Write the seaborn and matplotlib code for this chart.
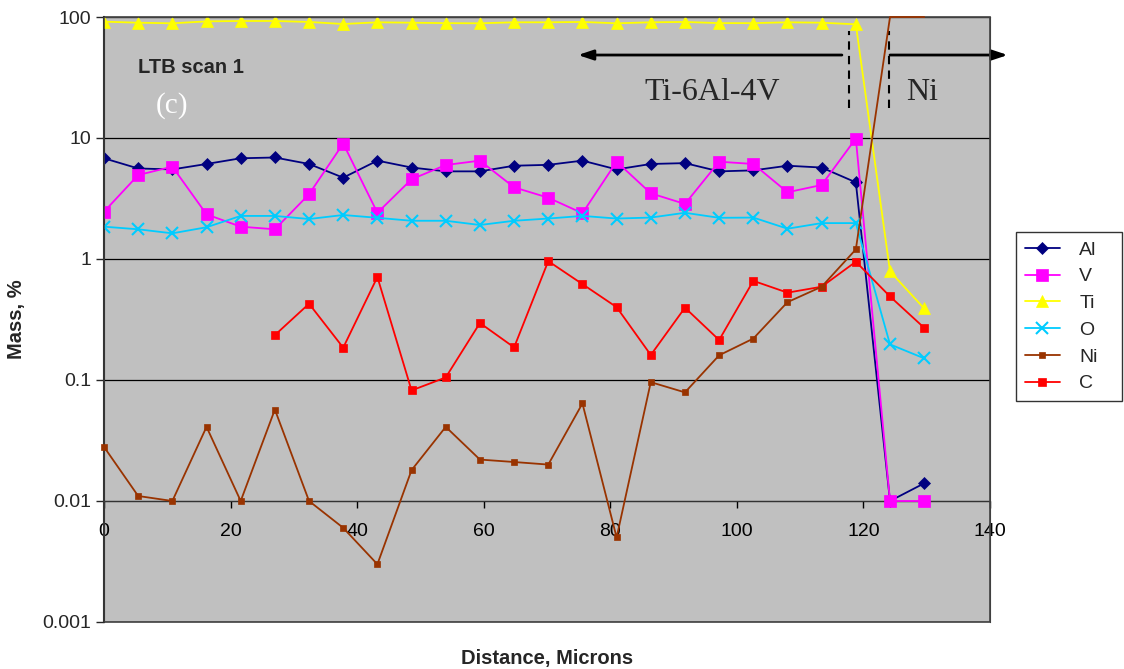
import numpy as np
import pandas as pd
import matplotlib
matplotlib.use("Agg")
import matplotlib.pyplot as plt
import seaborn as sns
from matplotlib.patches import Rectangle

distance = [0, 5.4, 10.8, 16.2, 21.6, 27.0, 32.4, 37.8, 43.2, 48.6, 54.0, 59.4,
            64.8, 70.2, 75.6, 81.0, 86.4, 91.8, 97.2, 102.6, 108.0, 113.4, 118.8,
            124.2, 129.6]
al = [6.8, 5.6, 5.5, 6.1, 6.8, 6.9, 6.1, 4.7, 6.5, 5.7, 5.3, 5.3,
      5.9, 6.0, 6.5, 5.5, 6.1, 6.2, 5.3, 5.4, 5.9, 5.7, 4.3, 0.01, 0.014]
v = [2.46, 4.94, 5.8, 2.34, 1.85, 1.76, 3.43, 9.0, 2.41, 4.56, 5.98, 6.5,
     3.91, 3.21, 2.39, 6.37, 3.49, 2.85, 6.37, 6.1, 3.56, 4.09, 9.9, 0.01, 0.01]
ti = [91.5, 89.7, 88.7, 92.0, 92.7, 92.7, 91.0, 87.5, 90.4, 89.7, 89.0, 88.7,
      90.4, 90.4, 91.0, 88.7, 90.4, 91.0, 89.0, 89.0, 90.4, 89.7, 87.0, 0.79, 0.39]
o = [1.85, 1.76, 1.63, 1.83, 2.27, 2.27, 2.14, 2.31, 2.19, 2.07, 2.07, 1.91,
     2.07, 2.16, 2.27, 2.16, 2.2, 2.41, 2.19, 2.2, 1.78, 1.98, 1.98, 0.197, 0.151]
ni = [0.028, 0.011, 0.01, 0.041, 0.01, 0.057, 0.01, 0.006, 0.003, 0.018, 0.041, 0.022,
      0.021, 0.02, 0.064, 0.005, 0.096, 0.079, 0.16, 0.22, 0.44, 0.59, 1.2, 100, 100]
c = [np.nan, np.nan, np.nan, np.nan, np.nan, 0.235, 0.427, 0.185, 0.71, 0.082, 0.105, 0.296,
     0.186, 0.96, 0.62, 0.40, 0.161, 0.396, 0.214, 0.66, 0.527, 0.59, 0.95, 0.49, 0.27]

series = ["Al", "V", "Ti", "O", "Ni", "C"]
colors = {"Al": "#000080", "V": "#FF00FF", "Ti": "#FFFF00",
          "O": "#00CCFF", "Ni": "#993300", "C": "#FF0000"}
markers = {"Al": "D", "V": "s", "Ti": "^", "O": "x", "Ni": "s", "C": "s"}
msizes = {"Al": 6, "V": 8, "Ti": 8, "O": 8, "Ni": 5, "C": 5.5}

df = pd.DataFrame({"Distance": distance, "Al": al, "V": v, "Ti": ti, "O": o, "Ni": ni, "C": c})
long = df.melt(id_vars="Distance", var_name="Element", value_name="Mass")

sns.set_style("white")
plt.rcParams["font.family"] = ["Liberation Sans", "DejaVu Sans"]

fig = plt.figure(figsize=(11.24, 6.69), dpi=100)
ax = fig.add_axes([104 / 1124, 1 - 622 / 669, 886 / 1124, 605 / 669])
ax.set_facecolor("#C0C0C0")

for el in series:
    sub = long[long["Element"] == el].dropna()
    sns.lineplot(data=sub, x="Distance", y="Mass", ax=ax, color=colors[el],
                 marker=markers[el], markersize=msizes[el], markeredgecolor=colors[el],
                 markeredgewidth=1.5 if el == "O" else 0.5, linewidth=1.3, label=el,
                 zorder=3)
    if el == "Ni":
        # markers sitting on the top edge are hidden in the original,
        # the line itself runs along the top border
        ln = ax.lines[-1]
        ln.set_markevery(list(range(len(sub) - 2)))
        ln.set_clip_on(False)
        ln.set_zorder(6)

ax.set_yscale("log")
ax.set_ylim(0.001, 100)
ax.set_xlim(0, 140)
ax.set_yticks([0.001, 0.01, 0.1, 1, 10, 100])
ax.set_yticklabels(["0.001", "0.01", "0.1", "1", "10", "100"])
ax.yaxis.set_minor_locator(matplotlib.ticker.NullLocator())
ax.set_xticks([0, 20, 40, 60, 80, 100, 120, 140])
ax.grid(True, axis="y", color="black", linewidth=0.9, zorder=1)
ax.set_axisbelow(True)

ax.spines["bottom"].set_position(("data", 0.01))
ax.spines["bottom"].set_color("#333333")
ax.spines["left"].set_color("black")
ax.spines["left"].set_linewidth(1.5)
ax.spines["top"].set_color("#404040")
ax.spines["right"].set_color("#404040")
ax.add_patch(Rectangle((0, 0), 1, 1, transform=ax.transAxes, fill=False,
                       edgecolor="#404040", linewidth=1.2, clip_on=False, zorder=5))

ax.tick_params(axis="x", direction="out", length=5, width=1, pad=11, labelsize=14,
               bottom=True, colors="black")
ax.tick_params(axis="y", direction="out", length=6, width=1, pad=3, labelsize=14,
               left=True)

ax.set_xlabel("Distance, Microns", fontsize=14.5, fontweight="bold")
ax.set_ylabel("Mass, %", fontsize=14.5, fontweight="bold")
ax.xaxis.set_label_coords(0.5, -0.045)
ax.yaxis.set_label_coords(-0.088, 0.5)

# annotations
ax.text(5.4, 34.4, "LTB scan 1", fontsize=14.5, fontweight="bold", va="baseline", ha="left")
ax.text(10.7, 16.1, "(c)", fontsize=21, color="white", va="baseline", ha="center",
        family="Liberation Serif")
ax.text(96.1, 20.6, "Ti-6Al-4V", fontsize=23, va="baseline", ha="center",
        family="Liberation Serif")
ax.text(129.2, 20.6, "Ni", fontsize=23, va="baseline", ha="center", family="Liberation Serif")
ax.annotate("", xy=(74.9, 48.5), xytext=(116.6, 48.5),
            arrowprops=dict(arrowstyle="-|>,head_length=0.9,head_width=0.3",
                            color="black", lw=2, shrinkA=0, shrinkB=0))
ax.annotate("", xy=(142.8, 48.5), xytext=(124.2, 48.5), annotation_clip=False,
            arrowprops=dict(arrowstyle="-|>,head_length=0.9,head_width=0.3",
                            color="black", lw=2, shrinkA=0, shrinkB=0))
ax.plot([117.7, 117.7], [17.7, 76.6], color="black", linestyle=(0, (4, 3)), lw=1.5)
ax.plot([124.0, 124.0], [17.7, 76.6], color="black", linestyle=(0, (4, 3)), lw=1.5)

handles, labels = ax.get_legend_handles_labels()
leg = ax.legend(handles, labels, loc="upper left",
                bbox_to_anchor=(1016 / 1124, 1 - 233 / 669, 106 / 1124, 0.001),
                mode="expand", bbox_transform=fig.transFigure, fontsize=14, frameon=True,
                fancybox=False, edgecolor="black", handlelength=1.8,
                labelspacing=0.47, borderpad=0.45, handletextpad=1.0, borderaxespad=0)
leg.get_frame().set_linewidth(1)

fig.savefig("out.png", dpi=100)
